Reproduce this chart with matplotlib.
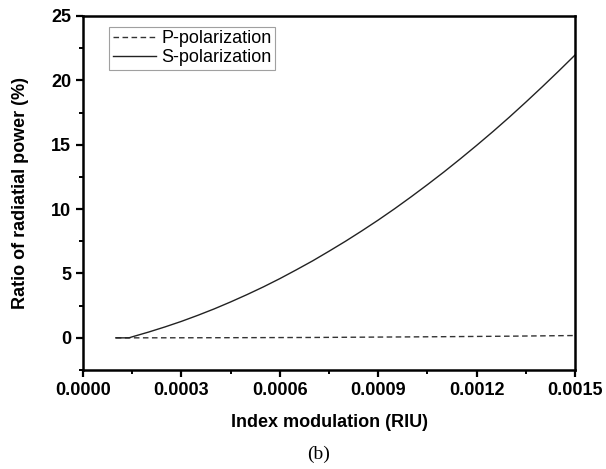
import matplotlib.pyplot as plt
from matplotlib.ticker import MultipleLocator, FormatStrFormatter

# index modulation (RIU) and ratio of radiated power (%)
s_x = [0.0001, 0.00014, 0.00015, 0.0002, 0.00025, 0.0003, 0.00035, 0.0004, 0.00045,
       0.0005, 0.00055, 0.0006, 0.00065, 0.0007, 0.00075, 0.0008, 0.00085, 0.0009,
       0.00095, 0.001, 0.00105, 0.0011, 0.00115, 0.0012, 0.00125, 0.0013, 0.00135,
       0.0014, 0.00145, 0.0015]
s_y = [0.0, 0.0, 0.08, 0.45, 0.85, 1.28, 1.75, 2.25, 2.79,
       3.36, 3.96, 4.60, 5.28, 5.98, 6.73, 7.50, 8.31, 9.15,
       10.03, 10.95, 11.90, 12.88, 13.90, 14.95, 16.03, 17.15, 18.31,
       19.50, 20.72, 21.97]

p_x = [0.0001, 0.0003, 0.0005, 0.0007, 0.0009, 0.0011, 0.0013, 0.0015]
p_y = [0.0, 0.005, 0.015, 0.03, 0.06, 0.09, 0.13, 0.18]

plt.rcParams['font.family'] = ['Liberation Sans', 'DejaVu Sans']

fig = plt.figure(figsize=(6.06, 4.69), dpi=100)
ax = fig.add_axes([0.137, 0.211, 0.812, 0.755])

ax.plot(p_x, p_y, color='#333333', lw=1.0, ls=(0, (4, 2.5)), label='P-polarization')
ax.plot(s_x, s_y, color='#222222', lw=1.0, label='S-polarization')

ax.set_xlim(0, 0.0015)
ax.set_ylim(-2.5, 25)
ax.xaxis.set_major_locator(MultipleLocator(0.0003))
ax.xaxis.set_minor_locator(MultipleLocator(0.00015))
ax.xaxis.set_major_formatter(FormatStrFormatter('%.4f'))
ax.yaxis.set_major_locator(MultipleLocator(5))
ax.yaxis.set_minor_locator(MultipleLocator(2.5))

for sp in ax.spines.values():
    sp.set_linewidth(1.8)
ax.tick_params(which='major', direction='out', length=5, width=1.6, labelsize=13)
ax.tick_params(which='minor', direction='out', length=3, width=1.4)
for lab in ax.get_xticklabels() + ax.get_yticklabels():
    lab.set_fontweight('bold')

ax.set_xlabel('Index modulation (RIU)', fontsize=13, fontweight='bold', labelpad=11)
ax.set_ylabel('Ratio of radiatial power (%)', fontsize=13, fontweight='bold', labelpad=16)

leg = ax.legend(loc='upper left', bbox_to_anchor=(0.053, 0.97), fontsize=13,
                frameon=True, fancybox=False, handlelength=2.4, handletextpad=0.3,
                borderpad=0.2, labelspacing=0.1, borderaxespad=0)
leg.get_frame().set_edgecolor('#888888')
leg.get_frame().set_linewidth(0.8)

fig.text(0.526, 0.032, '(b)', fontsize=14, family='Liberation Serif', ha='center', va='center')

fig.savefig('out.png', dpi=100)
